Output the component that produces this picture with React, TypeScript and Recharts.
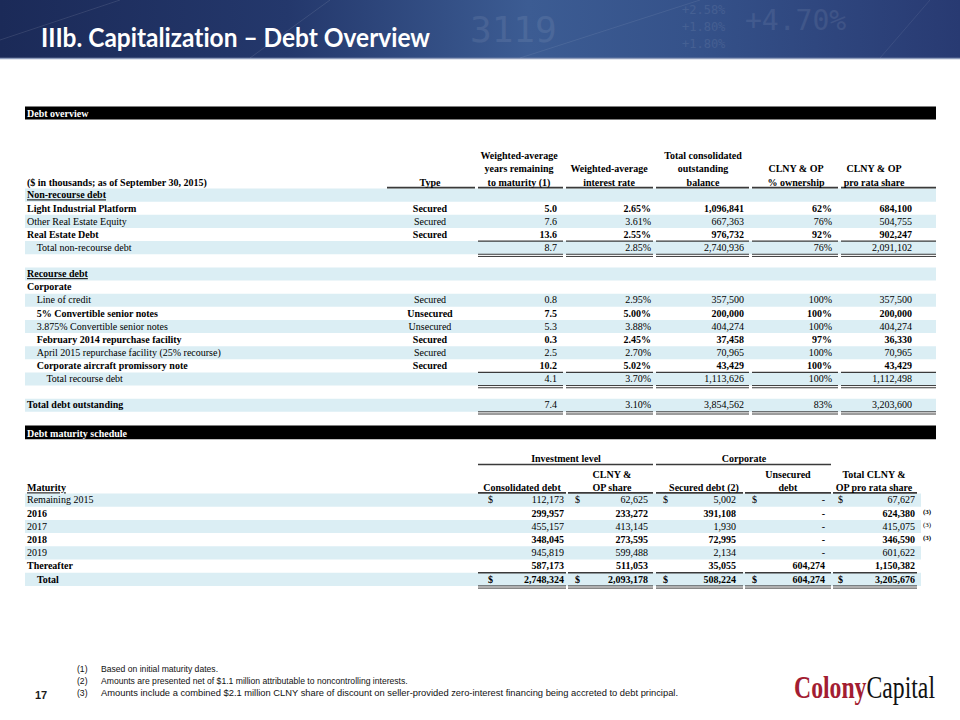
import React from 'react'
import { ComposedChart, XAxis, YAxis, Scatter, ReferenceArea, ReferenceLine } from 'recharts'

const W = 960
const H = 720
const SERIF = "'Liberation Serif', 'Times New Roman', serif"
const SANS = "'Liberation Sans', Arial, sans-serif"
const TITLE_FONT = "Lato, 'Open Sans', sans-serif"

// ---- debt overview ----
const overviewLabels = [
  'Non-recourse debt',
  'Light Industrial Platform',
  'Other Real Estate Equity',
  'Real Estate Debt',
  'Total non-recourse debt',
  '',
  'Recourse debt',
  'Corporate',
  'Line of credit',
  '5% Convertible senior notes',
  '3.875% Convertible senior notes',
  'February 2014 repurchase facility',
  'April 2015 repurchase facility (25% recourse)',
  'Corporate aircraft promissory note',
  'Total recourse debt',
  '',
  'Total debt outstanding',
]
const overviewTypes = ['', 'Secured', 'Secured', 'Secured', '', '', '', '', 'Secured', 'Unsecured', 'Unsecured', 'Secured', 'Secured', 'Secured', '', '', '']
const yearsRemaining = [null, 5.0, 7.6, 13.6, 8.7, null, null, null, 0.8, 7.5, 5.3, 0.3, 2.5, 10.2, 4.1, null, 7.4]
const interestRate = [null, 2.65, 3.61, 2.55, 2.85, null, null, null, 2.95, 5.0, 3.88, 2.45, 2.7, 5.02, 3.7, null, 3.1]
const outstandingBalance = [null, 1096841, 667363, 976732, 2740936, null, null, null, 357500, 200000, 404274, 37458, 70965, 43429, 1113626, null, 3854562]
const ownershipPct = [null, 62, 76, 92, 76, null, null, null, 100, 100, 100, 97, 100, 100, 100, null, 83]
const proRataShare = [null, 684100, 504755, 902247, 2091102, null, null, null, 357500, 200000, 404274, 36330, 70965, 43429, 1112498, null, 3203600]

const overviewHeaders = [
  ['', '', 'Type'],
  ['Weighted-average', 'years remaining', 'to maturity (1)'],
  ['', 'Weighted-average', 'interest rate'],
  ['Total consolidated', 'outstanding', 'balance'],
  ['', 'CLNY & OP', '% ownership'],
  ['', 'CLNY & OP', 'pro rata share'],
]

// ---- debt maturity schedule ----
const maturityLabels = ['Remaining 2015', '2016', '2017', '2018', '2019', 'Thereafter', 'Total']
const consolidatedDebt = [112173, 299957, 455157, 348045, 945819, 587173, 2748324]
const clnyOpShare = [62625, 233272, 413145, 273595, 599488, 511053, 2093178]
const securedDebt = [5002, 391108, 1930, 72995, 2134, 35055, 508224]
const unsecuredDebt = [0, 0, 0, 0, 0, 604274, 604274]
const totalProRata = [67627, 624380, 415075, 346590, 601622, 1150382, 3205676]
const noteThreeRows = [1, 2, 3]

const maturityGroups = ['Investment level', 'Corporate']
const maturityHeaders = [
  ['', 'Consolidated debt'],
  ['CLNY &', 'OP share'],
  ['', 'Secured debt (2)'],
  ['Unsecured', 'debt'],
  ['Total CLNY &', 'OP pro rata share'],
]

const footnotes = [
  'Based on initial maturity dates.',
  'Amounts are presented net of $1.1 million attributable to noncontrolling interests.',
  'Amounts include a combined $2.1 million CLNY share of discount on seller-provided zero-interest financing being accreted to debt principal.',
]

// ---- layout / style ----
const SHADE = '#DBEEF4'
const RULE = '#3a3a3a'
const OV_TOP = 188.6
const OV_ROW = 13.13
const M_TOP = 493.5
const M_ROW = 13.2
const ovTop = (i: number) => OV_TOP + i * OV_ROW
const mTop = (i: number) => M_TOP + i * M_ROW

const ovBoldLabels = [0, 1, 3, 6, 7, 9, 11, 13, 16]
const ovBoldValues = [1, 3, 9, 11, 13]
const ovUnderline = [0, 6]
const ovIndent = [0, 0, 0, 0, 1, 0, 0, 0, 1, 1, 1, 1, 1, 1, 2, 0, 0]
const ovTotals = [4, 14]
const mBold = [1, 3, 5, 6]
const mDollar = [0, 6]

// type column + 5 numeric columns
const ovCols = [
  { center: 430, right: 430, seg: [387, 475] },
  { center: 519, right: 557, seg: [478, 563] },
  { center: 609, right: 651, seg: [566, 653] },
  { center: 703, right: 744, seg: [656, 749] },
  { center: 796, right: 832, seg: [752, 838] },
  { center: 874, right: 912, seg: [841, 936] },
]
const mCols = [
  { center: 522, right: 564, dollar: 488, seg: [478, 566] },
  { center: 612, right: 648, dollar: 575, seg: [568, 653] },
  { center: 704, right: 736, dollar: 663, seg: [656, 743] },
  { center: 788, right: 825, dollar: 752, seg: [745, 831] },
  { center: 874, right: 915, dollar: 838, seg: [833, 917] },
]

type Part = { text: string; bold?: boolean; fill?: string }
type Txt = {
  x: number
  y: number
  text: string
  parts?: Part[]
  anchor?: 'start' | 'middle' | 'end'
  bold?: boolean
  underline?: boolean
  size?: number
  fill?: string
  family?: string
  len?: number
  opacity?: number
}

const fmt = (n: number) => n.toLocaleString('en-US')

const ovValues = [
  overviewTypes,
  yearsRemaining.map((v) => (v == null ? '' : v.toFixed(1))),
  interestRate.map((v) => (v == null ? '' : v.toFixed(2) + '%')),
  outstandingBalance.map((v) => (v == null ? '' : fmt(v))),
  ownershipPct.map((v) => (v == null ? '' : v + '%')),
  proRataShare.map((v) => (v == null ? '' : fmt(v))),
]
const mValues = [consolidatedDebt, clnyOpShare, securedDebt, unsecuredDebt, totalProRata]

const texts: Txt[] = []

// overview header
texts.push({ x: 27, y: 116.5, text: 'Debt overview', bold: true, fill: '#fff' })
texts.push({ x: 27, y: 185.5, text: '($ in thousands; as of September 30, 2015)', bold: true })
overviewHeaders.forEach((lines, c) =>
  lines.forEach((t, k) => {
    if (t) texts.push({ x: ovCols[c].center, y: 159.3 + k * 13.1, text: t, bold: true, anchor: 'middle' })
  })
)
overviewLabels.forEach((label, i) => {
  const base = ovTop(i) + 9.8
  if (label)
    texts.push({
      x: 27 + ovIndent[i] * 9.7,
      y: base,
      text: label,
      bold: ovBoldLabels.includes(i),
      underline: ovUnderline.includes(i),
    })
  ovValues.forEach((col, c) => {
    if (!col[i]) return
    texts.push({
      x: c === 0 ? ovCols[c].center : ovCols[c].right,
      y: base,
      text: col[i] as string,
      anchor: c === 0 ? 'middle' : 'end',
      bold: ovBoldValues.includes(i),
    })
  })
})

// maturity schedule
texts.push({ x: 27, y: 436.5, text: 'Debt maturity schedule', bold: true, fill: '#fff' })
texts.push({ x: 566, y: 462.4, text: maturityGroups[0], bold: true, anchor: 'middle' })
texts.push({ x: 744, y: 462.4, text: maturityGroups[1], bold: true, anchor: 'middle' })
texts.push({ x: 27, y: 491.4, text: 'Maturity', bold: true, underline: true })
maturityHeaders.forEach((lines, c) =>
  lines.forEach((t, k) => {
    if (t) texts.push({ x: mCols[c].center, y: 478.2 + k * 13.2, text: t, bold: true, anchor: 'middle' })
  })
)
maturityLabels.forEach((label, i) => {
  const base = mTop(i) + 9.8
  const bold = mBold.includes(i)
  texts.push({ x: i === 6 ? 37 : 27, y: base, text: label, bold })
  mValues.forEach((col, c) => {
    const v = col[i]
    texts.push({ x: mCols[c].right, y: base, text: v === 0 ? '-' : fmt(v), anchor: 'end', bold })
    if (mDollar.includes(i)) texts.push({ x: mCols[c].dollar, y: base, text: '$', bold })
  })
  if (noteThreeRows.includes(i)) texts.push({ x: 923, y: base - 3, text: '(3)', size: 7, bold })
})

// footnotes, page number, logo
footnotes.forEach((t, i) => {
  texts.push({ x: 77, y: 671.5 + i * 12, text: `(${i + 1})`, family: SANS, size: 8.6, fill: '#111' })
  texts.push({ x: 101, y: 671.5 + i * 12, text: t, family: SANS, size: 8.6, fill: '#111', len: i === 2 ? 577 : undefined })
})
texts.push({ x: 35, y: 699, text: '17', family: SANS, size: 11, bold: true, fill: '#1a1a1a' })
texts.push({
  x: 794,
  y: 697.5,
  text: 'ColonyCapital',
  parts: [
    { text: 'Colony', bold: true, fill: '#A31D32' },
    { text: 'Capital', fill: '#111' },
  ],
  size: 31,
  len: 141,
})

// faint ticker figures in the banner (right of the title)
const titleDecor: Txt[] = [
  { x: 682, y: 14, text: '+2.58%', size: 12 },
  { x: 682, y: 31, text: '+1.80%', size: 12 },
  { x: 682, y: 48, text: '+1.80%', size: 12 },
  { x: 745, y: 30, text: '+4.70%', size: 28 },
  { x: 470, y: 42, text: '3119', size: 36 },
].map((d) => ({ ...d, fill: '#fff', opacity: 0.08, family: "'DejaVu Sans Mono', monospace" }))

const title: Txt = {
  x: 41,
  y: 47,
  text: 'IIIb. Capitalization \u2013 Debt Overview',
  size: 26,
  bold: true,
  fill: '#fff',
  family: TITLE_FONT,
  len: 389,
}

type Rule = { x1: number; x2: number; y: number; w: number }
const rules: Rule[] = []
const addDouble = (x1: number, x2: number, y: number) => {
  rules.push({ x1, x2, y, w: 1 })
  rules.push({ x1, x2, y: y + 2.2, w: 1 })
}
ovCols.forEach((c) => rules.push({ x1: c.seg[0], x2: c.seg[1], y: 187.6, w: 1.6 }))
ovTotals.forEach((r) =>
  ovCols.slice(1).forEach((c) => {
    rules.push({ x1: c.seg[0], x2: c.seg[1], y: ovTop(r), w: 1.4 })
    addDouble(c.seg[0], c.seg[1], ovTop(r + 1))
  })
)
ovCols.slice(1).forEach((c) => addDouble(c.seg[0], c.seg[1], ovTop(17)))
rules.push({ x1: 478, x2: 653, y: 464.4, w: 1.5 })
rules.push({ x1: 656, x2: 831, y: 464.4, w: 1.5 })
mCols.forEach((c) => {
  rules.push({ x1: c.seg[0], x2: c.seg[1], y: 492.9, w: 1.6 })
  rules.push({ x1: c.seg[0], x2: c.seg[1], y: mTop(6), w: 1.4 })
  addDouble(c.seg[0], c.seg[1], mTop(7))
})

const ovBands = overviewLabels.map((_, i) => i).filter((i) => i % 2 === 0)
const mBands = maturityLabels.map((_, i) => i).filter((i) => i % 2 === 0)

const TextShape = (props: any) => {
  const p: Txt = props.payload
  return (
    <text
      x={props.cx}
      y={props.cy}
      textAnchor={p.anchor ?? 'start'}
      fontFamily={p.family ?? SERIF}
      fontSize={p.size ?? 10}
      fontWeight={p.bold ? 700 : 400}
      fill={p.fill ?? '#000'}
      textDecoration={p.underline ? 'underline' : undefined}
      textLength={p.len}
      lengthAdjust={p.len ? 'spacingAndGlyphs' : undefined}
      opacity={p.opacity}
      style={{ fontVariantLigatures: 'none' }}
    >
      {p.parts
        ? p.parts.map((s, k) => (
            <tspan key={k} fontWeight={s.bold ? 700 : 400} fill={s.fill}>
              {s.text}
            </tspan>
          ))
        : p.text}
    </text>
  )
}

export default function App() {
  return (
    <div style={{ position: 'absolute', left: 0, top: 0, width: W, height: H, background: '#fff' }}>
      <ComposedChart width={W} height={H} margin={{ top: 0, right: 0, bottom: 0, left: 0 }}>
        <defs>
          <linearGradient id="titleGrad" x1="0" y1="0" x2="1" y2="0">
            <stop offset="0%" stopColor="#1b2a58" />
            <stop offset="30%" stopColor="#24386c" />
            <stop offset="55%" stopColor="#3c5c93" />
            <stop offset="72%" stopColor="#35528a" />
            <stop offset="100%" stopColor="#283a72" />
          </linearGradient>
        </defs>
        <XAxis type="number" dataKey="x" domain={[0, W]} hide />
        <YAxis type="number" dataKey="y" domain={[0, H]} reversed hide />

        <ReferenceArea x1={0} x2={W} y1={0} y2={58} fill="url(#titleGrad)" fillOpacity={1} stroke="none" ifOverflow="visible" />
        <ReferenceLine segment={[{ x: 0, y: 58.5 }, { x: W, y: 58.5 }]} stroke="#8f9dbb" strokeWidth={1.5} ifOverflow="visible" />
        <ReferenceLine segment={[{ x: 0, y: 40 }, { x: 120, y: 0 }]} stroke="#fff" strokeOpacity={0.1} ifOverflow="visible" />
        <ReferenceLine segment={[{ x: 250, y: 58 }, { x: 330, y: 0 }]} stroke="#fff" strokeOpacity={0.1} ifOverflow="visible" />
        <ReferenceLine segment={[{ x: 520, y: 58 }, { x: 700, y: 0 }]} stroke="#fff" strokeOpacity={0.08} ifOverflow="visible" />
        <ReferenceLine segment={[{ x: 880, y: 58 }, { x: 930, y: 0 }]} stroke="#fff" strokeOpacity={0.08} ifOverflow="visible" />

        <ReferenceArea x1={25} x2={936} y1={106.5} y2={119.5} fill="#000" fillOpacity={1} stroke="none" ifOverflow="visible" />
        <ReferenceArea x1={25} x2={936} y1={425.5} y2={439.2} fill="#000" fillOpacity={1} stroke="none" ifOverflow="visible" />
        {ovBands.map((i) => (
          <ReferenceArea key={`ob${i}`} x1={25} x2={936} y1={ovTop(i)} y2={ovTop(i) + OV_ROW} fill={SHADE} fillOpacity={1} stroke="none" ifOverflow="visible" />
        ))}
        {mBands.map((i) => (
          <ReferenceArea key={`mb${i}`} x1={25} x2={921} y1={mTop(i)} y2={mTop(i) + M_ROW} fill={SHADE} fillOpacity={1} stroke="none" ifOverflow="visible" />
        ))}
        {rules.map((r, k) => (
          <ReferenceLine key={`r${k}`} segment={[{ x: r.x1, y: r.y }, { x: r.x2, y: r.y }]} stroke={RULE} strokeWidth={r.w} ifOverflow="visible" />
        ))}

        <Scatter data={titleDecor} shape={TextShape} isAnimationActive={false} />
        <Scatter data={[title]} shape={TextShape} isAnimationActive={false} />
        <Scatter data={texts} shape={TextShape} isAnimationActive={false} />
      </ComposedChart>
    </div>
  )
}
